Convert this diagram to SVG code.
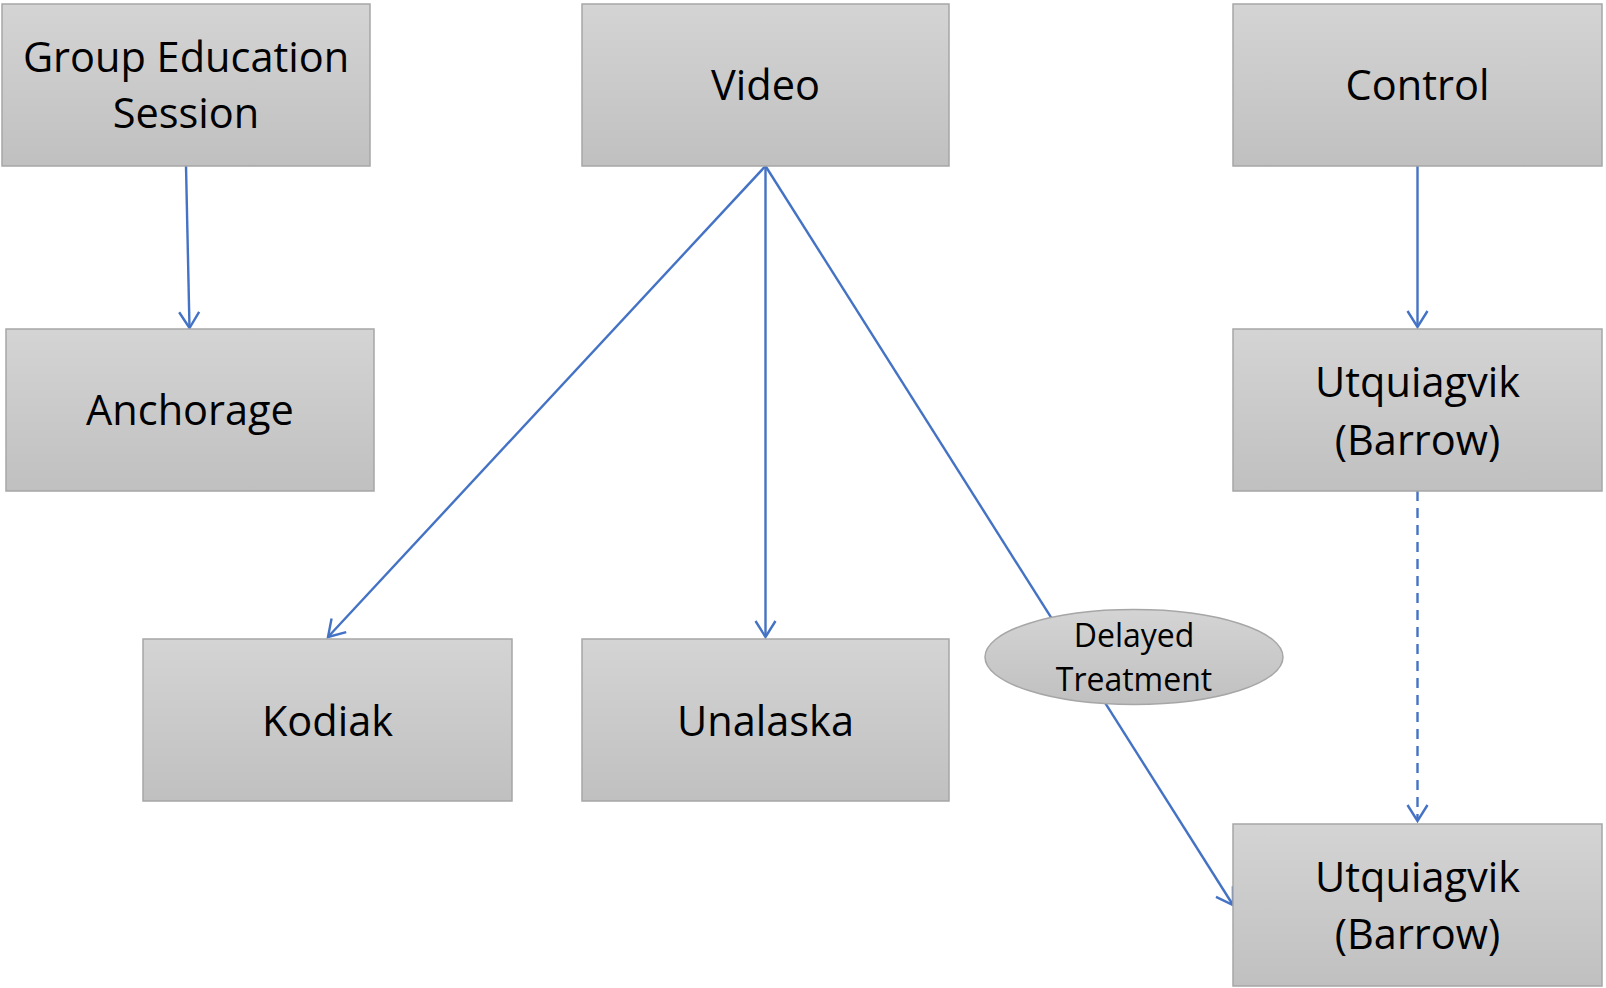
<svg xmlns="http://www.w3.org/2000/svg" width="1606" height="988" viewBox="0 0 1606 988">
<defs>
<linearGradient id="g" x1="0" y1="0" x2="0" y2="1">
<stop offset="0" stop-color="#d4d4d4"/>
<stop offset="1" stop-color="#c0c0c0"/>
</linearGradient>
<marker id="arr" markerUnits="userSpaceOnUse" markerWidth="24" markerHeight="24" refX="17" refY="10" orient="auto" overflow="visible">
<path d="M1,0 L17,10 L1,20" fill="none" stroke="#4472c4" stroke-width="2.4"/>
</marker>
<style>
.box{fill:url(#g);stroke:#a6a6a6;stroke-width:1.5}
.t{font-family:"Open Sans","Noto Sans",sans-serif;font-size:41.5px;fill:#000;text-anchor:middle}
.s{font-family:"Open Sans","Noto Sans",sans-serif;font-size:32px;fill:#000;text-anchor:middle}
.c{stroke:#4472c4;stroke-width:2.4;fill:none;marker-end:url(#arr)}
</style>
</defs>
<g id="connectors">
<line class="c" x1="186" y1="166" x2="189.5" y2="328"/>
<line class="c" x1="765.5" y1="166" x2="328" y2="637"/>
<line class="c" x1="765.5" y1="166" x2="765.5" y2="637"/>
<line class="c" x1="765.5" y1="166" x2="1233" y2="905"/>
<line class="c" x1="1417.5" y1="166" x2="1417.5" y2="327"/>
<line class="c" x1="1417.5" y1="491" x2="1417.5" y2="821" stroke-dasharray="10,7"/>
</g>
<g id="group-education">
<rect class="box" x="2" y="4" width="368" height="162"/>
<text class="t" x="186" y="72">Group Education</text>
<text class="t" x="186" y="128">Session</text>
</g>
<g id="video">
<rect class="box" x="582" y="4" width="367" height="162"/>
<text class="t" x="765.5" y="100">Video</text>
</g>
<g id="control">
<rect class="box" x="1233" y="4" width="369" height="162"/>
<text class="t" x="1417.5" y="100">Control</text>
</g>
<g id="anchorage">
<rect class="box" x="6" y="329" width="368" height="162"/>
<text class="t" x="190" y="425">Anchorage</text>
</g>
<g id="utqiagvik-1">
<rect class="box" x="1233" y="329" width="369" height="162"/>
<text class="t" x="1417.5" y="397">Utquiagvik</text>
<text class="t" x="1417.5" y="455">(Barrow)</text>
</g>
<g id="kodiak">
<rect class="box" x="143" y="639" width="369" height="162"/>
<text class="t" x="327.5" y="736">Kodiak</text>
</g>
<g id="unalaska">
<rect class="box" x="582" y="639" width="367" height="162"/>
<text class="t" x="765.5" y="736">Unalaska</text>
</g>
<g id="utqiagvik-2">
<rect class="box" x="1233" y="824" width="369" height="162"/>
<text class="t" x="1417.5" y="892">Utquiagvik</text>
<text class="t" x="1417.5" y="949">(Barrow)</text>
</g>
<g id="delayed-treatment">
<ellipse cx="1134" cy="657" rx="149" ry="47.5" fill="url(#g)" stroke="#a6a6a6" stroke-width="1.5"/>
<text class="s" x="1134" y="647">Delayed</text>
<text class="s" x="1134" y="691">Treatment</text>
</g>
</svg>
